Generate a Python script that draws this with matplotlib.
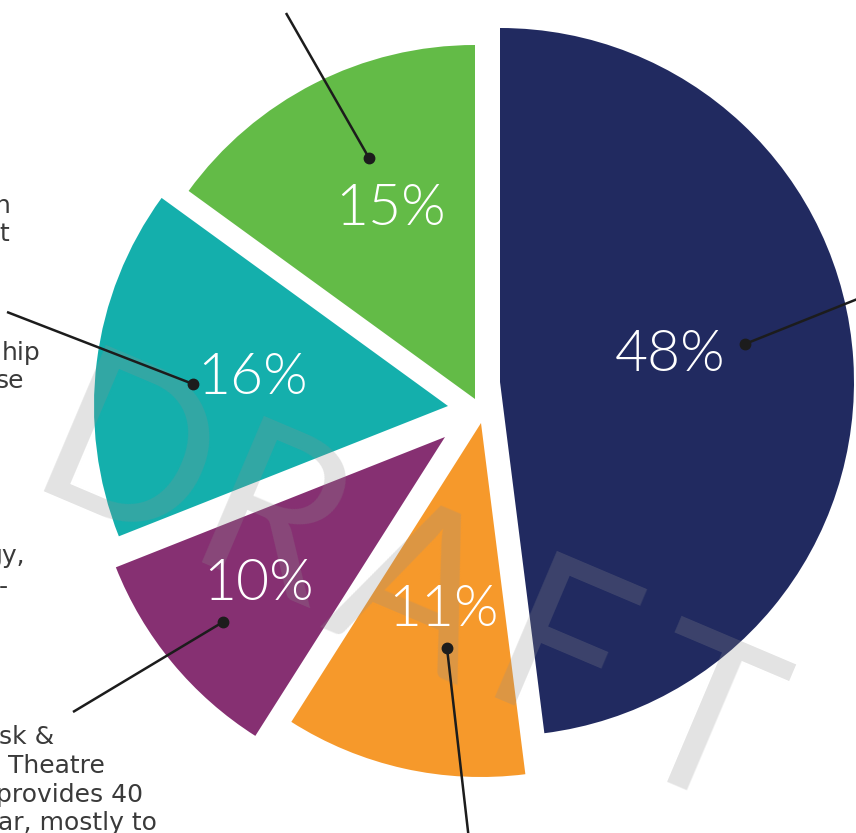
import matplotlib.pyplot as plt

W, H = 856, 833

# slice data, clockwise from 12 o'clock
names = ["navy", "orange", "purple", "teal", "green"]
values = [48, 11, 10, 16, 15]
colors = ["#212A60", "#F6992B", "#863072", "#14AFAC", "#63BB47"]

# hand-placed apex of each pulled-out slice (pixels, y down)
apex = [(500, 382), (481, 423), (445, 437), (448, 406), (475, 399)]
label_pos = [(670, 355), (443, 610), (258, 584), (252, 378), (390, 209)]
# leader lines: dot end, outer end
leaders = [((745, 344), (860, 298)),
           ((447, 648), (469, 840)),
           ((223, 622), (73, 712)),
           ((193, 384), (7, 312)),
           ((369, 158), (286, 13))]

# cropped side notes (right-aligned fragments / left-aligned fragments)
right_notes = [("n", 11, 213), ("t", 9, 241), ("hip", 41, 360), ("se", 24, 388),
               ("gy,", 25, 563)]
left_notes = [("sk &", -1, 744), ("Theatre", 8, 773), ("provides 40", -4, 802),
              ("ar, mostly to", -2, 830)]

def py(y):
    return H - y

fig = plt.figure(figsize=(W / 100, H / 100), dpi=100)
ax = fig.add_axes([0, 0, 1, 1])

wedges, _ = ax.pie(values, colors=colors, startangle=90, counterclock=False,
                   radius=354, center=(0, 0), wedgeprops=dict(linewidth=0))
for w, (x, y) in zip(wedges, apex):
    w.set_center((x, py(y)))

for v, (x, y) in zip(values, label_pos):
    ax.text(x, py(y), f"{v}%", color="white", fontsize=41, fontweight=300,
            family=["Lato", "DejaVu Sans"], ha="center", va="center", zorder=6)

for (x0, y0), (x1, y1) in leaders:
    ax.plot([x0, x1], [py(y0), py(y1)], color="#1c1c1c", lw=1.8, zorder=7,
            solid_capstyle="butt", clip_on=True)
    ax.plot(x0, py(y0), "o", color="#1c1c1c", ms=7.5, zorder=7)

# watermark
for i, ch in enumerate("DRAFT"):
    x = 125 + i * (700 - 125) / 4
    y = 466 + i * (730 - 466) / 4
    ax.text(x, py(y), ch, fontsize=160, color="#8f8f8f", alpha=0.25,
            fontweight=400, family=["Lato", "DejaVu Sans"],
            rotation=-23, ha="center", va="center", zorder=5)

ax.text(3, py(116), ":", color="#14AFAC", fontsize=20, fontweight="bold",
        ha="right", va="center")
for s, x, y in right_notes:
    ax.text(x, py(y), s, color="#3a3a3a", fontsize=18, ha="right",
            va="baseline")
for s, x, y in left_notes:
    ax.text(x, py(y), s, color="#3a3a3a", fontsize=18, ha="left",
            va="baseline")
ax.text(8, py(587), "-", color="#3a3a3a", fontsize=18, ha="right",
        va="center")

ax.set_xlim(0, W)
ax.set_ylim(0, H)
ax.set_aspect("auto")
ax.axis("off")

fig.savefig("out.png", dpi=100)
